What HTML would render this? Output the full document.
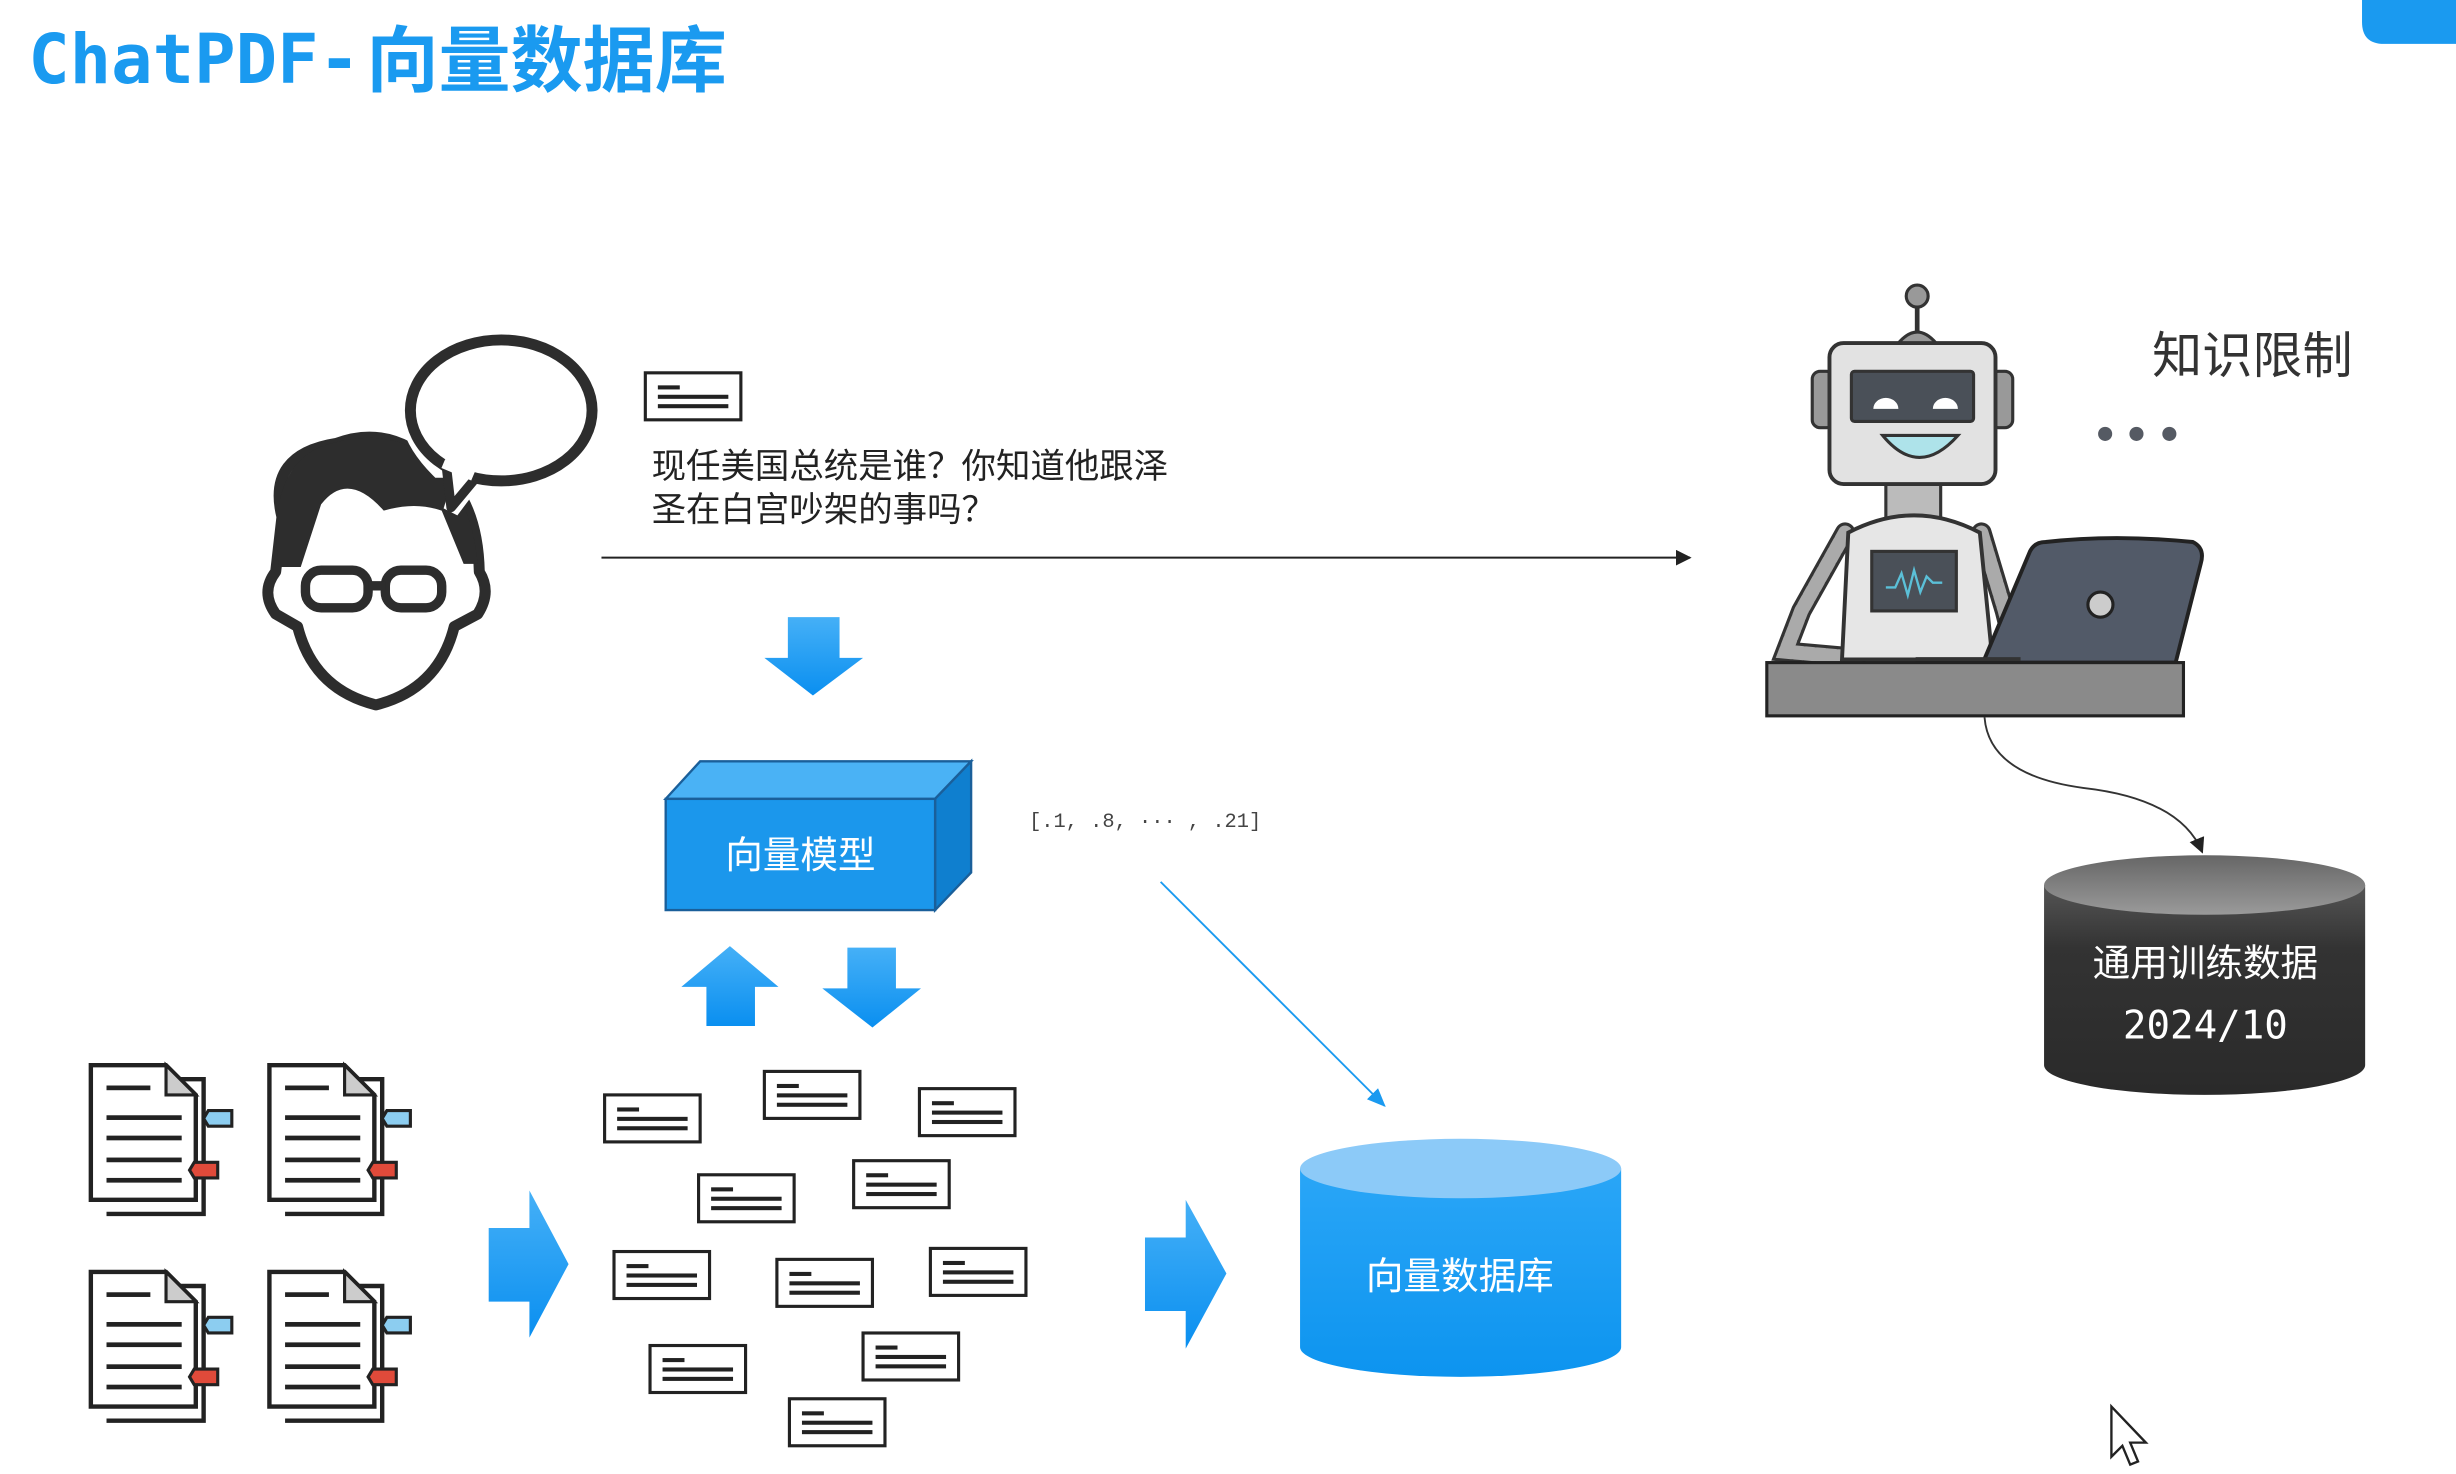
<!DOCTYPE html>
<html><head><meta charset="utf-8">
<style>
html,body{margin:0;padding:0;background:#fff;width:2456px;height:1474px;overflow:hidden}
svg{display:block}
</style></head>
<body>
<svg width="2456" height="1474" viewBox="0 0 1568 941" xmlns="http://www.w3.org/2000/svg" font-family="Liberation Sans, Noto Sans CJK SC, sans-serif">
<defs>
<linearGradient id="bl" x1="0" y1="0" x2="0" y2="1"><stop offset="0" stop-color="#45b0f7"/><stop offset="1" stop-color="#0a8ff0"/></linearGradient>
<linearGradient id="cylb" x1="0" y1="0" x2="0" y2="1"><stop offset="0" stop-color="#2aa6f7"/><stop offset="1" stop-color="#0d94ef"/></linearGradient>
<linearGradient id="cyld" x1="0" y1="0" x2="0" y2="1"><stop offset="0" stop-color="#555"/><stop offset="0.3" stop-color="#333"/><stop offset="1" stop-color="#2a2a2a"/></linearGradient>
<linearGradient id="cyldt" x1="0" y1="0" x2="0" y2="1"><stop offset="0" stop-color="#666"/><stop offset="1" stop-color="#9a9a9a"/></linearGradient>
<marker id="ak" markerWidth="10" markerHeight="10" refX="9" refY="5" orient="auto" markerUnits="userSpaceOnUse"><path d="M0,0 L10,5 L0,10 z" fill="#222"/></marker>
<marker id="ab" markerWidth="12" markerHeight="12" refX="11" refY="6" orient="auto" markerUnits="userSpaceOnUse"><path d="M0,1 L12,6 L0,11 z" fill="#1a9af0"/></marker>
<g id="tb"><rect x="0" y="0" width="61" height="30" fill="#fff" stroke="#222" stroke-width="2"/><rect x="8" y="8" width="14" height="2.6" fill="#222"/><rect x="8" y="14" width="45" height="2.6" fill="#222"/><rect x="8" y="20" width="45" height="2.6" fill="#222"/></g>
<g id="doc">
<path d="M10,9 H72 V95 H10" fill="none" stroke="#222" stroke-width="2.8"/>
<path d="M0,0 H48 L67,19 V86 H0 Z" fill="#fff" stroke="#222" stroke-width="2.8"/>
<path d="M48,0 V19 H67 Z" fill="#ccc" stroke="#222" stroke-width="2"/>
<g fill="#222"><rect x="10" y="13" width="28" height="3"/><rect x="10" y="32" width="48" height="3"/><rect x="10" y="45" width="48" height="3"/><rect x="10" y="59" width="48" height="3"/><rect x="10" y="72" width="48" height="3"/></g>
<path d="M75,29 H90 V39 H75 L72,34 Z" fill="#8ccdf0" stroke="#222" stroke-width="2"/>
<path d="M66,62 H81 V72 H66 L63,67 Z" fill="#e04a3a" stroke="#222" stroke-width="2"/>
</g>
</defs>

<!-- title -->
<text x="18" y="53" font-size="44" font-weight="bold" fill="#1a9af0" style="font-family:'DejaVu Sans Mono','Liberation Mono',monospace">ChatPDF-</text>
<text x="234" y="55" font-size="46" font-weight="bold" fill="#1a9af0" style="font-family:'Noto Sans CJK SC',sans-serif">向量数据库</text>
<path d="M1508,0 H1568 V28 H1522 Q1508,28 1508,14 Z" fill="#1a9af0"/>

<!-- person -->
<g stroke="#2d2d2d" stroke-width="7" fill="none" stroke-linejoin="round">
<path d="M180,330 Q170,290 215,283 Q250,270 280,300 Q305,320 306,365 Q314,378 305,392 L290,400 Q280,440 240,450 Q200,440 190,400 L176,392 Q166,378 176,365 Z" fill="#fff"/>
</g>
<path d="M178,362 Q170,300 205,285 Q245,272 270,290 Q300,310 305,360 L296,360 L282,326 Q265,320 245,326 Q222,300 205,322 L192,362 Z" fill="#2d2d2d"/>
<g stroke="#2d2d2d" stroke-width="6" fill="none">
<rect x="195" y="364" width="40" height="24" rx="10"/><rect x="246" y="364" width="36" height="24" rx="10"/>
<path d="M235,374 H246"/></g>
<path d="M296,300 L288,326 L303,306 Q360,310 378,270 Q385,225 345,214 Q295,205 265,240 Q250,270 280,300 Z" fill="#fff" stroke="#fff" stroke-width="10"/>
<ellipse cx="320" cy="262" rx="58" ry="45" fill="#fff" stroke="#2d2d2d" stroke-width="7"/>
<path d="M285,298 L288,324 L303,306" fill="#fff" stroke="#2d2d2d" stroke-width="6" stroke-linejoin="round"/>
<path d="M283,296 L302,304" stroke="#fff" stroke-width="6"/>

<!-- query -->
<use href="#tb" x="412" y="238"/>
<text x="416" y="305" font-size="22" fill="#222">现任美国总统是谁？你知道他跟泽</text>
<text x="416" y="333" font-size="22" fill="#222">圣在白宫吵架的事吗？</text>
<line x1="384" y1="356" x2="1079" y2="356" stroke="#222" stroke-width="1.3" marker-end="url(#ak)"/>

<!-- down arrow -->
<path d="M503,394 H536 V420 H551 L519,444 L488,420 H503 Z" fill="url(#bl)"/>

<!-- 3d box -->
<path d="M425,510 L447,486 L620,486 L597,510 Z" fill="#4ab2f5" stroke="#1a5f9a" stroke-width="1.5"/>
<path d="M597,510 L620,486 L620,557 L597,581 Z" fill="#0f7fcf" stroke="#1a5f9a" stroke-width="1.5"/>
<rect x="425" y="510" width="172" height="71" fill="#1b97ec" stroke="#1a5f9a" stroke-width="1.5"/>
<text x="511" y="554" font-size="24" fill="#fff" text-anchor="middle">向量模型</text>

<text x="657" y="528" font-size="13" fill="#444" style="font-family:'Liberation Mono',monospace">[.1, .8, ··· , .21]</text>
<line x1="741" y1="563" x2="884" y2="706" stroke="#1a9af0" stroke-width="1.2" marker-end="url(#ab)"/>

<!-- up/down arrows -->
<path d="M451,655 H482 V630 H497 L466,604 L435,630 H451 Z" fill="url(#bl)"/>
<path d="M541,605 H572 V631 H588 L557,656 L525,631 H541 Z" fill="url(#bl)"/>

<!-- docs -->
<use href="#doc" x="58" y="680"/>
<use href="#doc" x="172" y="680"/>
<use href="#doc" x="58" y="812"/>
<use href="#doc" x="172" y="812"/>

<!-- right arrows -->
<path d="M312,784 H338 V760 L363,807 L338,854 V831 H312 Z" fill="url(#bl)"/>
<path d="M731,790 H757 V766 L783,813 L757,861 V837 H731 Z" fill="url(#bl)"/>

<!-- text boxes -->
<use href="#tb" x="386" y="699"/>
<use href="#tb" x="488" y="684"/>
<use href="#tb" x="587" y="695"/>
<use href="#tb" x="446" y="750"/>
<use href="#tb" x="545" y="741"/>
<use href="#tb" x="392" y="799"/>
<use href="#tb" x="496" y="804"/>
<use href="#tb" x="594" y="797"/>
<use href="#tb" x="415" y="859"/>
<use href="#tb" x="551" y="851"/>
<use href="#tb" x="504" y="893"/>

<!-- blue cylinder -->
<path d="M830,746 V860 A102.5,19 0 0 0 1035,860 V746 Z" fill="url(#cylb)"/>
<ellipse cx="932.5" cy="746" rx="102.5" ry="19" fill="#8ccaf8"/>
<text x="932" y="823" font-size="24" fill="#fff" text-anchor="middle">向量数据库</text>

<!-- robot -->
<line x1="1224" y1="195" x2="1224" y2="212" stroke="#333" stroke-width="3"/>
<circle cx="1224" cy="189" r="7" fill="#999" stroke="#333" stroke-width="2"/>
<path d="M1212,219 Q1224,205 1236,219 Z" fill="#999" stroke="#333" stroke-width="2"/>
<rect x="1157" y="237" width="14" height="36" rx="5" fill="#999" stroke="#333" stroke-width="2"/>
<rect x="1271" y="237" width="14" height="36" rx="5" fill="#999" stroke="#333" stroke-width="2"/>
<rect x="1204" y="306" width="35" height="26" fill="#bbb" stroke="#333" stroke-width="2"/>
<rect x="1168" y="219" width="106" height="90" rx="9" fill="#e2e2e2" stroke="#333" stroke-width="2.5"/>
<rect x="1182" y="237" width="78" height="32" rx="2" fill="#4a5058" stroke="#333" stroke-width="2"/>
<path d="M1196,261 A8,7 0 0 1 1212,261 Z M1234,261 A8,7 0 0 1 1250,261 Z" fill="#fff"/>
<path d="M1202,278 Q1225,306 1250,278 Z" fill="#aee3ea" stroke="#333" stroke-width="2"/>
<path d="M1178,340 L1150,390 L1140,416 L1185,420" fill="none" stroke="#333" stroke-width="13" stroke-linecap="round"/>
<path d="M1178,340 L1150,390 L1140,416 L1185,420" fill="none" stroke="#aaa" stroke-width="9" stroke-linecap="round" stroke-dasharray="5 2"/>
<path d="M1265,340 L1280,390 L1285,410" fill="none" stroke="#333" stroke-width="13" stroke-linecap="round"/>
<path d="M1265,340 L1280,390 L1285,410" fill="none" stroke="#aaa" stroke-width="9" stroke-linecap="round" stroke-dasharray="5 2"/>
<path d="M1180,340 Q1222,318 1264,340 L1272,421 H1176 Z" fill="#e6e6e6" stroke="#333" stroke-width="2.5"/>
<rect x="1195" y="352" width="54" height="38" fill="#4a5058" stroke="#333" stroke-width="2"/>
<path d="M1204,375 L1210,375 L1214,366 L1218,380 L1222,364 L1226,378 L1230,368 L1234,372 L1240,372" fill="none" stroke="#5bc0d8" stroke-width="1.5"/>
<path d="M1306,346 Q1350,341 1400,346 Q1408,350 1405,360 L1389,423 H1266 L1296,352 Q1299,346 1306,346 Z" fill="#525a68" stroke="#222" stroke-width="2.5"/>
<circle cx="1341" cy="386" r="8" fill="#ccc" stroke="#222" stroke-width="2"/>
<path d="M1223,421 H1290" stroke="#333" stroke-width="3"/>
<rect x="1128" y="423" width="266" height="34" fill="#8a8a8a" stroke="#222" stroke-width="2"/>
<text x="1374" y="238" font-size="32" fill="#333">知识限制</text>
<g fill="#555a63"><circle cx="1344" cy="277" r="4.5"/><circle cx="1364" cy="277" r="4.5"/><circle cx="1385" cy="277" r="4.5"/></g>
<path d="M1267,458 Q1270,495 1330,503 Q1392,510 1406,544" fill="none" stroke="#333" stroke-width="1.2" marker-end="url(#ak)"/>

<!-- dark cylinder -->
<path d="M1305,565 V680 A102.5,19 0 0 0 1510,680 V565 Z" fill="url(#cyld)"/>
<ellipse cx="1407.5" cy="565" rx="102.5" ry="19" fill="url(#cyldt)"/>
<text x="1408" y="623" font-size="24" fill="#fff" text-anchor="middle">通用训练数据</text>
<text x="1408" y="663" font-size="25" fill="#fff" text-anchor="middle" style="font-family:'DejaVu Sans Mono','Liberation Mono',monospace">2024/10</text>

<!-- cursor -->
<path d="M1348,898 V930 L1355,923 L1360,935 L1365,933 L1360,921 L1370,921 Z" fill="#fff" stroke="#222" stroke-width="1.5"/>
</svg>
</body></html>
